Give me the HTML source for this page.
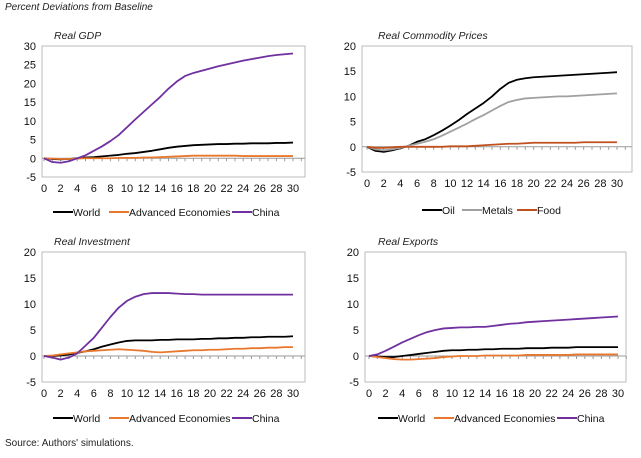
<!DOCTYPE html>
<html><head><meta charset="utf-8"><style>
body{margin:0;background:#fff;font-family:"Liberation Sans",sans-serif}
svg{display:block}
</style></head><body>
<svg id="c" width="641" height="458">
<text x="5" y="10" font-size="10" font-style="italic" fill="#222">Percent Deviations from Baseline</text>
<text x="5" y="446" font-size="10" fill="#222">Source: Authors' simulations.</text>
</svg>
<script>
const gdpWorld=[0,-0.2,-0.3,-0.2,0,0.2,0.3,0.5,0.7,0.9,1.2,1.4,1.7,2,2.4,2.8,3.1,3.3,3.5,3.6,3.7,3.8,3.8,3.9,3.9,4,4,4,4.1,4.1,4.2];
const gdpAdv=[0,-0.1,-0.2,-0.2,-0.1,0,0,0,0,0.1,0.1,0.1,0.2,0.2,0.3,0.4,0.5,0.6,0.7,0.7,0.7,0.7,0.7,0.7,0.6,0.6,0.6,0.6,0.6,0.6,0.6];
const gdpChina=[0,-1,-1.2,-0.8,0,0.8,2,3.2,4.6,6.2,8.3,10.4,12.4,14.4,16.4,18.6,20.5,22,22.8,23.4,24,24.6,25.1,25.6,26.1,26.5,26.9,27.3,27.6,27.8,28];
const comOil=[0,-0.8,-1,-0.7,-0.3,0.2,1,1.5,2.3,3.2,4.2,5.3,6.5,7.6,8.7,10,11.5,12.7,13.3,13.6,13.8,13.9,14,14.1,14.2,14.3,14.4,14.5,14.6,14.7,14.8];
const comMetals=[0,-0.5,-0.7,-0.5,-0.2,0.2,0.6,1,1.5,2.2,3,3.8,4.6,5.5,6.3,7.2,8.1,8.9,9.3,9.6,9.7,9.8,9.9,10,10,10.1,10.2,10.3,10.4,10.5,10.6];
const comFood=[0,-0.2,-0.2,-0.1,0,0,0,0,0,0,0.1,0.1,0.1,0.2,0.3,0.4,0.5,0.6,0.6,0.7,0.8,0.8,0.8,0.8,0.8,0.8,0.9,0.9,0.9,0.9,0.9];
const invWorld=[0,0,0.1,0.3,0.6,0.9,1.3,1.8,2.2,2.6,2.9,3,3,3,3.1,3.1,3.2,3.2,3.2,3.3,3.3,3.4,3.4,3.5,3.5,3.6,3.6,3.7,3.7,3.7,3.8];
const invAdv=[0,0.1,0.3,0.5,0.7,0.9,1,1.1,1.2,1.3,1.2,1.1,1,0.8,0.7,0.8,0.9,1,1.1,1.1,1.2,1.2,1.3,1.4,1.4,1.5,1.5,1.6,1.6,1.7,1.7];
const invChina=[0,-0.3,-0.7,-0.3,0.5,2,3.5,5.5,7.5,9.3,10.6,11.4,11.9,12.1,12.1,12.1,12,11.9,11.9,11.8,11.8,11.8,11.8,11.8,11.8,11.8,11.8,11.8,11.8,11.8,11.8];
const expWorld=[0,-0.1,-0.2,-0.2,0,0.2,0.4,0.6,0.8,1,1.1,1.1,1.2,1.2,1.3,1.3,1.4,1.4,1.4,1.5,1.5,1.5,1.6,1.6,1.6,1.7,1.7,1.7,1.7,1.7,1.7];
const expAdv=[0,-0.2,-0.4,-0.6,-0.7,-0.7,-0.6,-0.5,-0.4,-0.2,-0.1,0,0,0,0.1,0.1,0.1,0.1,0.1,0.2,0.2,0.2,0.2,0.2,0.2,0.3,0.3,0.3,0.3,0.3,0.3];
const expChina=[0,0.3,1,1.8,2.6,3.3,4,4.6,5,5.3,5.4,5.5,5.5,5.6,5.6,5.8,6,6.2,6.3,6.5,6.6,6.7,6.8,6.9,7,7.1,7.2,7.3,7.4,7.5,7.6];
const xTicks=[0,2,4,6,8,10,12,14,16,18,20,22,24,26,28,30];
const yTicksGdp=[30,25,20,15,10,5,0,-5];
const yTicksOther=[20,15,10,5,0,-5];
const ns="http://www.w3.org/2000/svg";
const svg=document.getElementById('c');
function mk(t,a,p){const e=document.createElementNS(ns,t);for(const k in a)e.setAttribute(k,a[k]);(p||svg).appendChild(e);return e;}
const C={black:'#000',orange:'#E8782E',purple:'#7030A0',gray:'#A0A0A0',food:'#C0501E'};
function panel(o){
  const g=mk('g',{});
  
  
  const ymin=-5,ymax=o.yticks[0];
  const X=v=>o.x0+(o.x30-o.x0)*v/30;
  const Y=v=>o.bot+(o.top-o.bot)*(v-ymin)/(ymax-ymin);
  const t=mk('text',{x:o.tx,y:o.top-7,'font-size':10.5,'font-style':'italic',fill:'#222'},g);t.textContent=o.title;
  
  const box=mk('rect',{x:o.ax,y:o.top,width:o.right-o.ax,height:o.bot-o.top,fill:'none',stroke:'#bbb','stroke-width':1},g);
  
  mk('line',{x1:o.ax,x2:o.right,y1:Y(0),y2:Y(0),stroke:'#999'},g);
  for(let i=0;i<=31;i++){mk('line',{x1:X(i),x2:X(i),y1:Y(0),y2:Y(0)+3,stroke:'#999'},g);}
  o.yticks.forEach(v=>{const e=mk('text',{x:o.ax-6,y:Y(v)+4,'font-size':11,'text-anchor':'end',fill:'#111'},g);e.textContent=v;
    });
  xTicks.forEach(v=>{const e=mk('text',{x:X(v),y:o.bot+15,'font-size':11,'text-anchor':'middle',fill:'#111'},g);e.textContent=v;
    });
  o.series.forEach(s=>{
    const p=mk('polyline',{points:s.data.map((v,i)=>X(i)+','+Y(v)).join(' '),fill:'none',stroke:s.c,'stroke-width':s.w||1.8,'stroke-linejoin':'round'},g);
    
    
  });
  let lx=o.lx;
  o.series.slice().sort((a,b)=>a.o-b.o).forEach(s=>{
    const lg=mk('g',{},g);
    
    
    mk('line',{x1:lx,x2:lx+20,y1:o.ly-4,y2:o.ly-4,stroke:s.c,'stroke-width':2},lg);
    const e=mk('text',{x:lx+20,y:o.ly,'font-size':10.5,fill:'#111'},lg);e.textContent=s.n;
    lx+=20+s.lw;
  });
}
const three=(w,a,c)=>[{n:'World',data:w,c:C.black,o:0,lw:36},{n:'Advanced Economies',data:a,c:C.orange,o:1,lw:103},{n:'China',data:c,c:C.purple,o:2,lw:40}];
panel({name:'real-gdp-panel',title:'Real GDP',tx:54,ax:42,right:305,top:46,bot:177,x0:44,x30:293,yticks:yTicksGdp,lx:53,ly:216,series:three(gdpWorld,gdpAdv,gdpChina)});
panel({name:'real-commodity-prices-panel',title:'Real Commodity Prices',tx:378,ax:362,right:632,top:46,bot:172,x0:367,x30:617,yticks:yTicksOther,lx:422,ly:214,
  series:[{n:'Oil',data:comOil,c:C.black,o:0,lw:20},{n:'Metals',data:comMetals,c:C.gray,o:1,lw:35},{n:'Food',data:comFood,c:C.food,o:2,lw:30}]});
panel({name:'real-investment-panel',title:'Real Investment',tx:54,ax:42,right:305,top:252,bot:382,x0:44,x30:293,yticks:yTicksOther,lx:53,ly:422,series:three(invWorld,invAdv,invChina)});
panel({name:'real-exports-panel',title:'Real Exports',tx:378,ax:365,right:626,top:252,bot:382,x0:369,x30:618,yticks:yTicksOther,lx:378,ly:422,series:three(expWorld,expAdv,expChina)});
</script>
</body></html>
